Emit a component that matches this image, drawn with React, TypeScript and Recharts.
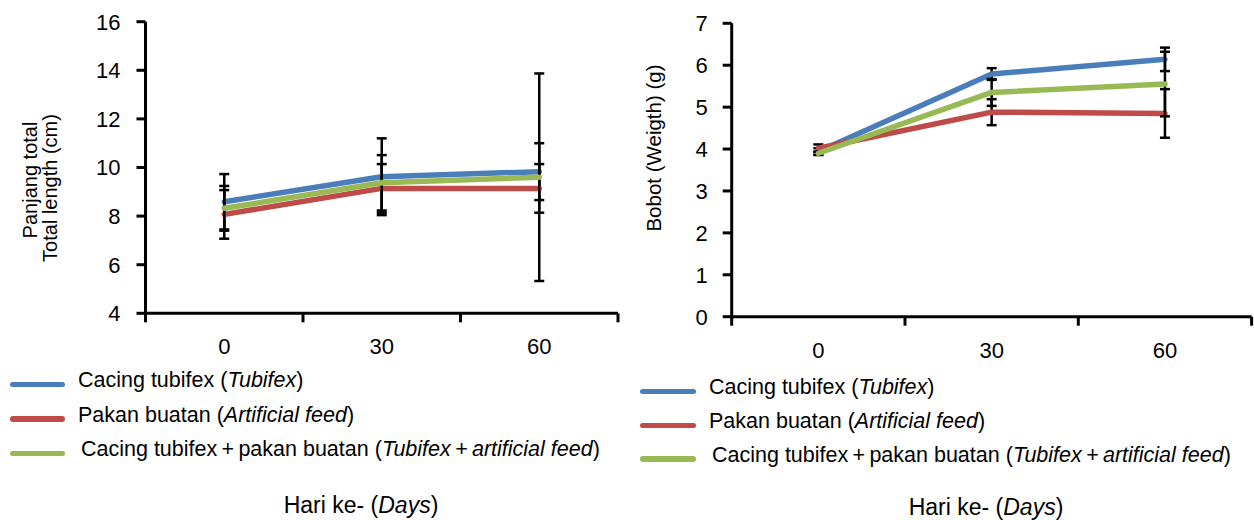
import React from "react";
import { LineChart, Line, XAxis, YAxis, ErrorBar, Legend } from "recharts";

const FONT = "'Liberation Sans', Arial, sans-serif";

// Categories
const days = ["0", "30", "60"];
const dayIndex = [0, 1, 2];
const xTicks = [-0.5, 0, 0.5, 1, 1.5, 2, 2.5];

// Series names
const seriesNames = ["Cacing tubifex", "Pakan buatan", "Cacing tubifex\u2009+\u2009pakan buatan"];
const seriesNamesEn = ["Tubifex", "Artificial feed", "Tubifex\u2009+\u2009artificial feed"];
const seriesKeys = ["tubifex", "artificial", "mixed"];
const colors = ["#4A7EBB", "#BE4B48", "#98B954"];

// Left chart: total length (cm)
const lenTubifex = [8.59, 9.62, 9.83];
const lenTubifexErr = [1.14, 1.58, 1.17];
const lenArtificial = [8.07, 9.14, 9.14];
const lenArtificialErr = [1.0, 1.0, 1.0];
const lenMixed = [8.32, 9.37, 9.6];
const lenMixedErr = [0.92, 1.14, 4.27];
const lenTicks = [4, 6, 8, 10, 12, 14, 16];

// Right chart: weight (g)
const wTubifex = [3.94, 5.79, 6.14];
const wTubifexErr = [0.08, 0.14, 0.28];
const wArtificial = [4.02, 4.88, 4.85];
const wArtificialErr = [0.09, 0.31, 0.58];
const wMixed = [3.9, 5.35, 5.55];
const wMixedErr = [0.04, 0.32, 0.77];
const wTicks = [0, 1, 2, 3, 4, 5, 6, 7];

const lengthData = dayIndex.map((i) => ({
  x: i,
  day: days[i],
  tubifex: lenTubifex[i],
  tubifexErr: lenTubifexErr[i],
  artificial: lenArtificial[i],
  artificialErr: lenArtificialErr[i],
  mixed: lenMixed[i],
  mixedErr: lenMixedErr[i],
}));

const weightData = dayIndex.map((i) => ({
  x: i,
  day: days[i],
  tubifex: wTubifex[i],
  tubifexErr: wTubifexErr[i],
  artificial: wArtificial[i],
  artificialErr: wArtificialErr[i],
  mixed: wMixed[i],
  mixedErr: wMixedErr[i],
}));

function DayTick(props: any) {
  const { x, y, payload } = props;
  const v = payload.value;
  if (Number.isInteger(v)) {
    return (
      <text
        x={x}
        y={y + 33.5}
        textAnchor="middle"
        dominantBaseline="central"
        fontSize={22}
        fontFamily={FONT}
        fill="#000"
      >
        {days[v]}
      </text>
    );
  }
  return <line x1={x} y1={y} x2={x} y2={y + 9} stroke="#000" strokeWidth={3} />;
}

function LegendBlock({ rowH, swatchLeft, swatchW }: any) {
  return (
    <div style={{ fontFamily: FONT, fontSize: 21.5, color: "#000" }}>
      {seriesNames.map((n, i) => (
        <div
          key={i}
          style={{ display: "flex", alignItems: "center", height: rowH, whiteSpace: "nowrap" }}
        >
          <div
            style={{
              marginLeft: swatchLeft,
              width: swatchW,
              height: 5.5,
              borderRadius: 3,
              background: colors[i],
              flexShrink: 0,
            }}
          />
          <span
            style={{
              marginLeft: i === 2 ? 16 : 13,
              lineHeight: 1,
              position: "relative",
              top: -3.5,
            }}
          >
            {n} (<i>{seriesNamesEn[i]}</i>)
          </span>
        </div>
      ))}
    </div>
  );
}

function RotText({ cx, cy, size, children }: any) {
  return (
    <div
      style={{
        position: "absolute",
        left: cx,
        top: cy,
        transform: "translate(-50%,-50%) rotate(-90deg)",
        fontSize: size,
        lineHeight: 1,
        whiteSpace: "nowrap",
        fontFamily: FONT,
        color: "#000",
      }}
    >
      {children}
    </div>
  );
}

function HText({ cx, cy, size, children }: any) {
  return (
    <div
      style={{
        position: "absolute",
        left: cx,
        top: cy,
        transform: "translate(-50%,-50%)",
        fontSize: size,
        lineHeight: 1,
        whiteSpace: "nowrap",
        fontFamily: FONT,
        color: "#000",
      }}
    >
      {children}
    </div>
  );
}

const axisStroke = { stroke: "#000", strokeWidth: 3 };

function renderLines() {
  return seriesKeys.map((k, i) => (
    <Line
      key={k}
      type="linear"
      dataKey={k}
      name={seriesNames[i]}
      stroke={colors[i]}
      strokeWidth={5.5}
      strokeLinecap="round"
      strokeLinejoin="round"
      dot={false}
      activeDot={false}
      isAnimationActive={false}
    >
      <ErrorBar
        dataKey={k + "Err"}
        direction="y"
        width={5}
        stroke="#000"
        strokeWidth={2.5}
        isAnimationActive={false}
      />
    </Line>
  ));
}

export default function App() {
  return (
    <div
      style={{
        position: "absolute",
        left: 0,
        top: 0,
        width: 1254,
        height: 520,
        background: "#fff",
        overflow: "hidden",
      }}
    >
      <div style={{ position: "absolute", left: 0, top: 0 }}>
        <LineChart
          width={640}
          height={520}
          data={lengthData}
          margin={{ top: 21.7, right: 22, left: 0, bottom: 166.7 }}
        >
          <XAxis
            type="number"
            dataKey="x"
            domain={[-0.5, 2.5]}
            ticks={xTicks}
            interval={0}
            allowDecimals
            tickLine={false}
            tickSize={0}
            tickMargin={0}
            axisLine={axisStroke}
            height={40}
            tick={(p: any) => <DayTick {...p} />}
          />
          <YAxis
            type="number"
            domain={[4, 16]}
            ticks={lenTicks}
            interval={0}
            width={145.5}
            tickSize={9}
            tickMargin={16}
            axisLine={axisStroke}
            tickLine={axisStroke}
            tick={{ fill: "#000", fontSize: 22, fontFamily: FONT }}
          />
          {renderLines()}
          <Legend
            layout="vertical"
            align="center"
            verticalAlign="middle"
            wrapperStyle={{ left: 0, top: 367, width: 640 }}
            content={() => <LegendBlock rowH={34.5} swatchLeft={10} swatchW={55} />}
          />
        </LineChart>
      </div>

      <div style={{ position: "absolute", left: 630, top: 0 }}>
        <LineChart
          width={624}
          height={520}
          data={weightData}
          margin={{ top: 23.3, right: 2.4, left: 0, bottom: 163.3 }}
        >
          <XAxis
            type="number"
            dataKey="x"
            domain={[-0.5, 2.5]}
            ticks={xTicks}
            interval={0}
            allowDecimals
            tickLine={false}
            tickSize={0}
            tickMargin={0}
            axisLine={axisStroke}
            height={40}
            tick={(p: any) => <DayTick {...p} />}
          />
          <YAxis
            type="number"
            domain={[0, 7]}
            ticks={wTicks}
            interval={0}
            width={101.7}
            tickSize={9}
            tickMargin={15}
            axisLine={axisStroke}
            tickLine={axisStroke}
            tick={{ fill: "#000", fontSize: 22, fontFamily: FONT }}
          />
          {renderLines()}
          <Legend
            layout="vertical"
            align="center"
            verticalAlign="middle"
            wrapperStyle={{ left: 0, top: 374.85, width: 624 }}
            content={() => <LegendBlock rowH={33.65} swatchLeft={10} swatchW={56} />}
          />
        </LineChart>
      </div>

      <RotText cx={30} cy={180} size={20}>Panjang total</RotText>
      <RotText cx={50} cy={188} size={20}>Total length (cm)</RotText>
      <RotText cx={654} cy={148} size={20.5}>Bobot (Weigth) (g)</RotText>

      <HText cx={361} cy={505} size={23}>
        Hari ke- (<i>Days</i>)
      </HText>
      <HText cx={986} cy={507} size={23}>
        Hari ke- (<i>Days</i>)
      </HText>
    </div>
  );
}
